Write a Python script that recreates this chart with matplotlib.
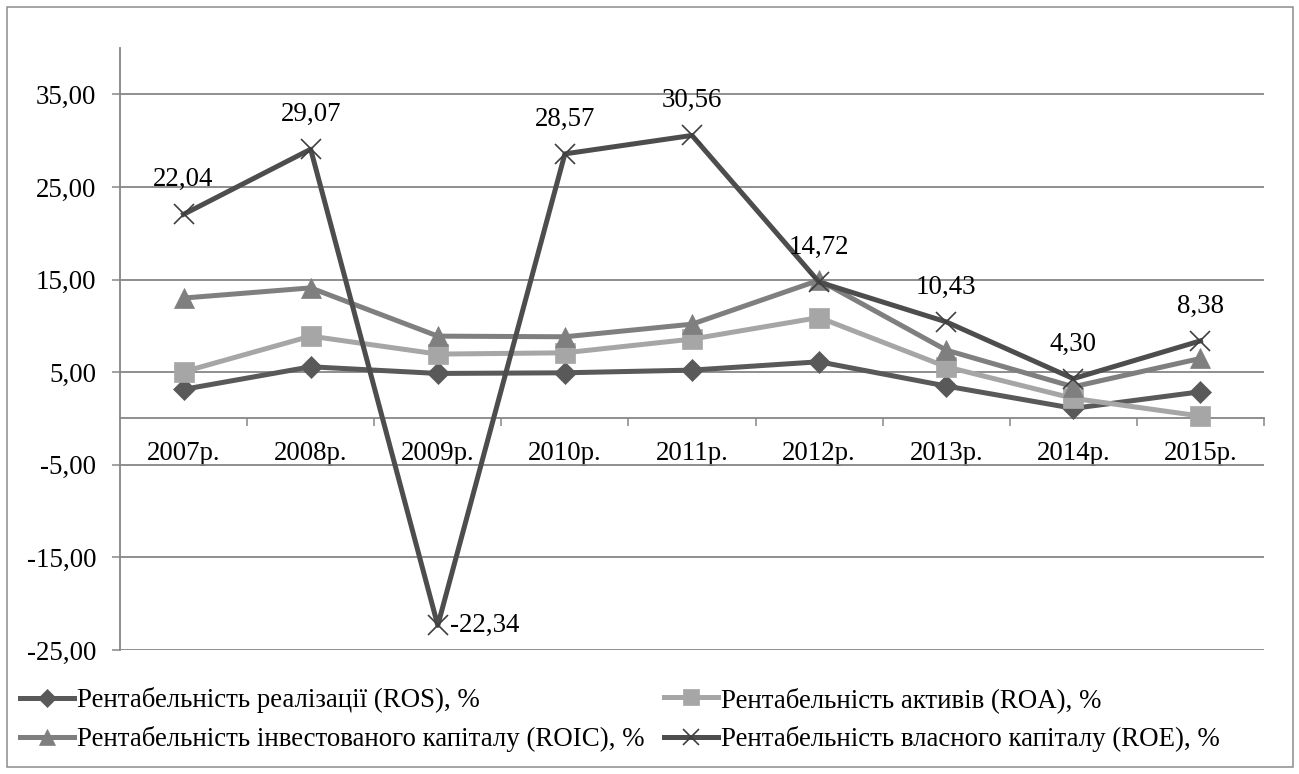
import matplotlib
matplotlib.use("Agg")
import matplotlib.pyplot as plt
from matplotlib.ticker import FixedLocator, FuncFormatter, NullFormatter
from matplotlib.patches import Rectangle

plt.rcParams['font.family'] = ['Liberation Serif', 'DejaVu Serif']

years = ["2007р.", "2008р.", "2009р.", "2010р.", "2011р.", "2012р.", "2013р.", "2014р.", "2015р."]
ros = [3.14, 5.58, 4.86, 4.93, 5.22, 6.12, 3.50, 1.09, 2.88]
roa = [5.04, 8.89, 6.95, 7.09, 8.57, 10.90, 5.58, 2.17, 0.26]
roic = [13.00, 14.10, 8.89, 8.82, 10.18, 14.93, 7.38, 3.42, 6.48]
roe = [22.04, 29.07, -22.34, 28.57, 30.56, 14.72, 10.43, 4.30, 8.38]

names = [
    "Рентабельність реалізації (ROS), %",
    "Рентабельність активів (ROA), %",
    "Рентабельність інвестованого капіталу (ROIC), %",
    "Рентабельність власного капіталу (ROE), %",
]

W, H, DPI = 1299, 774, 100
FS = 19.4
GRID = "#868686"

fig = plt.figure(figsize=(W / DPI, H / DPI), dpi=DPI)
fig.patch.set_facecolor("white")

# outer chart frame
fig.patches.append(Rectangle((7 / W, 7 / H), (1293 - 7) / W, (767 - 7) / H,
                             transform=fig.transFigure, fill=False,
                             edgecolor="#8c8c8c", linewidth=1.1))

left, right, top, bottom = 120, 1264, 48, 650
ax = fig.add_axes([left / W, 1 - bottom / H, (right - left) / W, (bottom - top) / H])

x = [i + 0.5 for i in range(len(years))]

l_ros, = ax.plot(x, ros, color="#595959", lw=3.6, marker="D", ms=11.5, mec="#595959", mew=0.5,
                 label=names[0], zorder=3)
l_roa, = ax.plot(x, roa, color="#a6a6a6", lw=3.6, marker="s", ms=14, mec="#a6a6a6", mew=0.5,
                 label=names[1], zorder=3)
l_roic, = ax.plot(x, roic, color="#7f7f7f", lw=3.6, marker="^", ms=14.5, mec="#7f7f7f", mew=0.5,
                  label=names[2], zorder=3)
l_roe, = ax.plot(x, roe, color="#4d4d4d", lw=3.6, marker="x", ms=14, mec="#3f3f3f", mew=1.2,
                 label=names[3], zorder=3)

def fmt(v):
    return f"{v:.2f}".replace(".", ",")

for xi, v in zip(x, roe):
    if v < 0:
        ax.annotate(fmt(v), (xi, v), xytext=(8.6, 0), textcoords="offset points",
                    ha="left", va="center", fontsize=FS, zorder=5)
    else:
        ax.annotate(fmt(v), (xi, v), xytext=(0, 25), textcoords="offset points",
                    ha="center", va="center", fontsize=FS, zorder=5)

ax.set_xlim(0, len(years))
ax.set_ylim(-25, 40)

yt = [-25, -15, -5, 5, 15, 25, 35]
ax.yaxis.set_major_locator(FixedLocator(yt))
ax.yaxis.set_major_formatter(FuncFormatter(lambda v, p: fmt(v)))
ax.tick_params(axis="y", direction="out", length=6, width=1.1, color=GRID,
               labelsize=FS, pad=11)
ax.grid(axis="y", color=GRID, lw=1.3, zorder=0)
ax.set_axisbelow(True)

# category axis sits at zero with boundary ticks and centred labels
ax.spines["bottom"].set_position(("data", 0))
ax.xaxis.set_major_locator(FixedLocator(list(range(1, len(years) + 1))))
ax.xaxis.set_major_formatter(NullFormatter())
ax.xaxis.set_minor_locator(FixedLocator(x))
ax.set_xticklabels(years, minor=True)
ax.tick_params(axis="x", which="major", direction="out", length=6, width=1.1, color=GRID)
ax.tick_params(axis="x", which="minor", length=0, labelsize=FS, pad=16)

for s in ("top", "right"):
    ax.spines[s].set_visible(False)
for s in ("left", "bottom"):
    ax.spines[s].set_color(GRID)
    ax.spines[s].set_linewidth(1.3)

# two legend columns, each anchored at its own left edge
leg_kw = dict(loc="upper left", frameon=False, fontsize=FS, handlelength=2.0,
              handletextpad=0.13, labelspacing=0.5, borderpad=0, borderaxespad=0,
              markerscale=0.8)
fig.legend([l_ros, l_roic], [names[0], names[2]],
           bbox_to_anchor=(20 / W, 1 - 687 / H), **leg_kw)
fig.legend([l_roa, l_roe], [names[1], names[3]],
           bbox_to_anchor=(664 / W, 1 - 687 / H), **leg_kw)

fig.savefig("out.png", dpi=DPI, facecolor="white")
